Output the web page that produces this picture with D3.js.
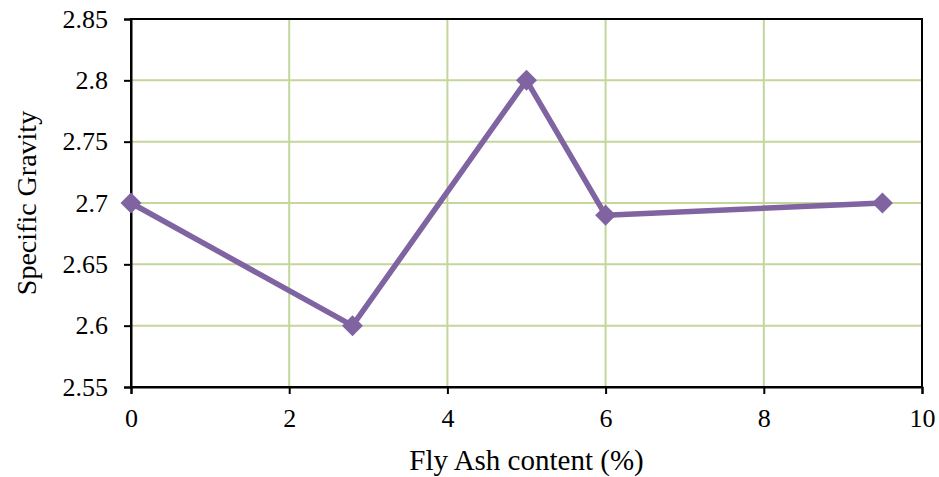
<!DOCTYPE html>
<html>
<head>
<meta charset="utf-8">
<script src="https://cdnjs.cloudflare.com/ajax/libs/d3/7.8.5/d3.min.js"></script>
<style>
  body { margin: 0; background: #fff; }
  text { font-family: "Liberation Serif", "Times New Roman", serif; fill: #000; }
</style>
</head>
<body>
<div id="chart"></div>
<script>
// data
var flyAsh = [0, 2.8, 5, 6, 9.5];
var specificGravity = [2.7, 2.6, 2.8, 2.69, 2.7];
var xTicks = [0, 2, 4, 6, 8, 10];
var yTicks = [2.55, 2.6, 2.65, 2.7, 2.75, 2.8, 2.85];

var W = 939, H = 477;
var plotLeft = 131, plotRight = 922, plotTop = 19, plotBottom = 387;

var svg = d3.select("#chart").append("svg")
    .attr("width", W)
    .attr("height", H);

var x = d3.scaleLinear().domain([0, 10]).range([plotLeft, plotRight]);
var y = d3.scaleLinear().domain([2.55, 2.85]).range([plotBottom, plotTop]);

// gridlines
svg.append("g").selectAll("line")
    .data(yTicks.slice(1, -1))
    .enter().append("line")
    .attr("x1", plotLeft).attr("x2", plotRight)
    .attr("y1", function (d) { return y(d); })
    .attr("y2", function (d) { return y(d); })
    .style("stroke", "#c3d69b")
    .style("stroke-width", 2);

svg.append("g").selectAll("line")
    .data(xTicks.slice(1, -1))
    .enter().append("line")
    .attr("y1", plotTop).attr("y2", plotBottom)
    .attr("x1", function (d) { return x(d); })
    .attr("x2", function (d) { return x(d); })
    .style("stroke", "#c3d69b")
    .style("stroke-width", 2);

// frame
svg.append("rect")
    .attr("x", plotLeft).attr("y", plotTop)
    .attr("width", plotRight - plotLeft).attr("height", plotBottom - plotTop)
    .style("fill", "none")
    .style("stroke", "#000")
    .style("stroke-width", 2);

// axes
var yAxis = svg.append("g")
    .attr("transform", "translate(" + plotLeft + ",0)")
    .call(d3.axisLeft(y).tickValues(yTicks).tickSize(7).tickPadding(16)
        .tickFormat(function (d) { return String(+d.toFixed(2)); }));

var xAxis = svg.append("g")
    .attr("transform", "translate(0," + plotBottom + ")")
    .call(d3.axisBottom(x).tickValues(xTicks).tickSize(7).tickPadding(15)
        .tickFormat(d3.format("d")));

[yAxis, xAxis].forEach(function (a) {
    a.attr("font-size", null).attr("font-family", null);
    a.select(".domain").style("stroke", "#000").style("stroke-width", 2);
    a.selectAll(".tick line").style("stroke", "#000").style("stroke-width", 2);
    a.selectAll("text")
        .style("font-family", "'Liberation Serif', serif")
        .style("font-size", "26px")
        .style("fill", "#000");
});

// series line
var pts = flyAsh.map(function (d, i) { return [d, specificGravity[i]]; });
var line = d3.line()
    .x(function (d) { return x(d[0]); })
    .y(function (d) { return y(d[1]); });

svg.append("path")
    .datum(pts)
    .attr("d", line)
    .style("fill", "none")
    .style("stroke", "#8064a2")
    .style("stroke-width", 5.5)
    .style("stroke-linejoin", "round");

svg.selectAll("path.marker")
    .data(pts)
    .enter().append("path")
    .attr("class", "marker")
    .attr("transform", function (d) { return "translate(" + x(d[0]) + "," + y(d[1]) + ")"; })
    .attr("d", d3.symbol().type(d3.symbolDiamond2).size(280))
    .style("fill", "#8064a2");

// axis titles
svg.append("text")
    .attr("x", (plotLeft + plotRight) / 2)
    .attr("y", 470)
    .style("text-anchor", "middle")
    .style("font-size", "29px")
    .text("Fly Ash content (%)");

svg.append("text")
    .attr("transform", "translate(36," + ((plotTop + plotBottom) / 2) + ") rotate(-90)")
    .style("text-anchor", "middle")
    .style("font-size", "28px")
    .text("Specific Gravity");
</script>
</body>
</html>
